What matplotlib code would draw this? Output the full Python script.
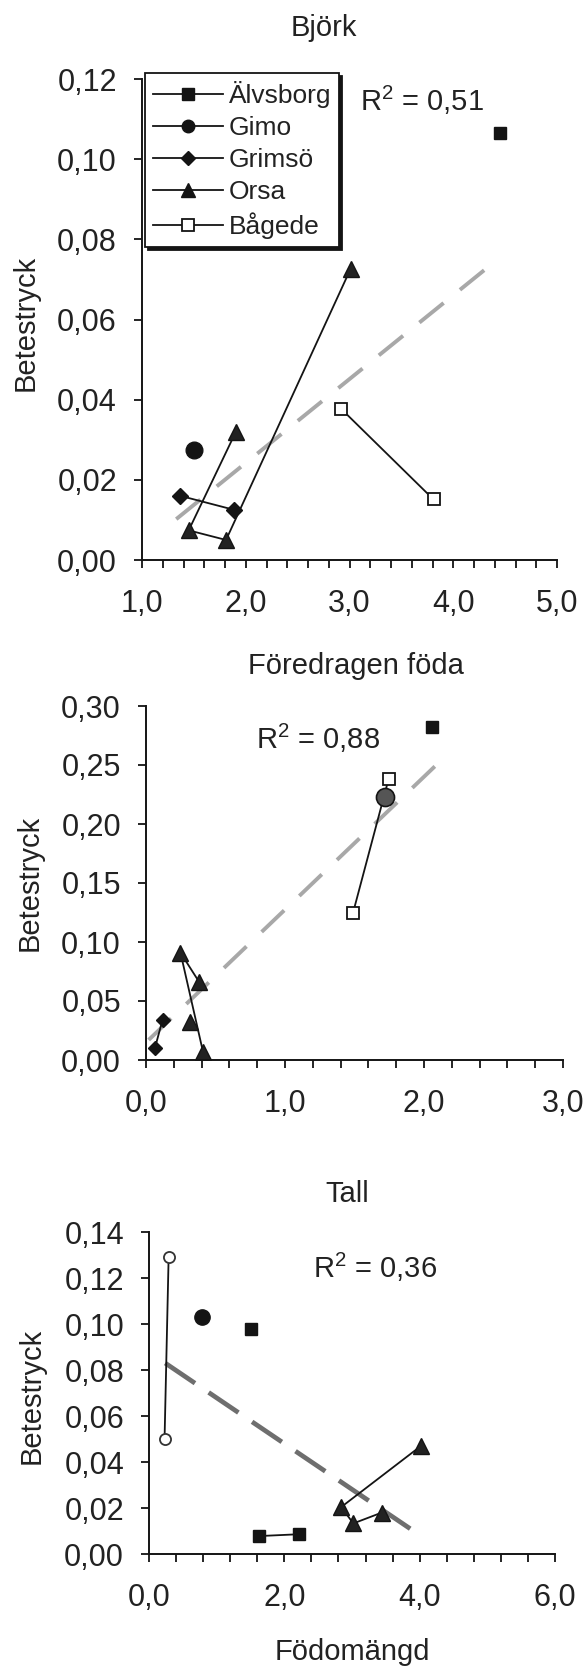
import matplotlib
matplotlib.use('Agg')
import matplotlib.pyplot as plt
import numpy as np
from matplotlib.ticker import FixedLocator
from matplotlib.lines import Line2D

plt.rcParams['font.family'] = ['Liberation Sans', 'DejaVu Sans']
plt.rcParams['mathtext.fontset'] = 'custom'
plt.rcParams['mathtext.rm'] = 'Liberation Sans'
plt.rcParams['mathtext.it'] = 'Liberation Sans:italic'

# ---------------- data ----------------
series_names = ['Älvsborg', 'Gimo', 'Grimsö', 'Orsa', 'Bågede']

# Panel 1: Björk
bj_alv_x = [4.45];               bj_alv_y = [0.1066]
bj_gim_x = [1.50];               bj_gim_y = [0.0275]
bj_gri_x = [1.37, 1.89];         bj_gri_y = [0.016, 0.0125]
bj_ors_x = [1.905, 1.45, 1.81, 3.01]; bj_ors_y = [0.032, 0.0074, 0.005, 0.0726]
bj_bag_x = [2.92, 3.81];         bj_bag_y = [0.0377, 0.0151]
bj_trend_x = [1.33, 4.37];       bj_trend_y = [0.0102, 0.0738]

# Panel 2: Föredragen föda
fo_alv_x = [2.06];               fo_alv_y = [0.2825]
fo_gim_x = [1.72];               fo_gim_y = [0.223]
fo_gri_x = [0.065, 0.119];       fo_gri_y = [0.0105, 0.034]
fo_ors_x = [0.383, 0.248, 0.41, np.nan, 0.316]
fo_ors_y = [0.066, 0.091, 0.007, np.nan, 0.0325]
fo_bag_x = [1.49, 1.745];        fo_bag_y = [0.125, 0.238]
fo_trend_x = [0.019, 2.115];     fo_trend_y = [0.017, 0.253]

# Panel 3: Tall
ta_alv_x = [1.50, np.nan, 1.63, 2.22]; ta_alv_y = [0.098, np.nan, 0.0078, 0.0086]
ta_gim_x = [0.79];               ta_gim_y = [0.103]
ta_ors_x = [4.02, 2.84, 3.02, 3.44]; ta_ors_y = [0.047, 0.0204, 0.0133, 0.018]
ta_bag_x = [0.29, 0.23];         ta_bag_y = [0.129, 0.0502]
ta_trend_x = [0.24, 3.86];       ta_trend_y = [0.083, 0.011]

titles = ['Björk', 'Föredragen föda', 'Tall']
r2_texts = [r'$\mathrm{R}^{2}$ = 0,51', r'$\mathrm{R}^{2}$ = 0,88', r'$\mathrm{R}^{2}$ = 0,36']
ylabel = 'Betestryck'
xlabel = 'Födomängd'

bj_xticks = [1.0, 2.0, 3.0, 4.0, 5.0]
bj_xticklabels = ['1,0', '2,0', '3,0', '4,0', '5,0']
bj_yticks = [0.00, 0.02, 0.04, 0.06, 0.08, 0.10, 0.12]
bj_yticklabels = ['0,00', '0,02', '0,04', '0,06', '0,08', '0,10', '0,12']

fo_xticks = [0.0, 1.0, 2.0, 3.0]
fo_xticklabels = ['0,0', '1,0', '2,0', '3,0']
fo_yticks = [0.00, 0.05, 0.10, 0.15, 0.20, 0.25, 0.30]
fo_yticklabels = ['0,00', '0,05', '0,10', '0,15', '0,20', '0,25', '0,30']

ta_xticks = [0.0, 2.0, 4.0, 6.0]
ta_xticklabels = ['0,0', '2,0', '4,0', '6,0']
ta_yticks = [0.00, 0.02, 0.04, 0.06, 0.08, 0.10, 0.12, 0.14]
ta_yticklabels = ['0,00', '0,02', '0,04', '0,06', '0,08', '0,10', '0,12', '0,14']

# ---------------- figure ----------------
W, H = 588, 1666
fig = plt.figure(figsize=(W / 100, H / 100), dpi=100)
fig.patch.set_facecolor('white')

def px_axes(left, right, top, bottom):
    return fig.add_axes([left / W, 1 - bottom / H, (right - left) / W, (bottom - top) / H])

def ftext(x, y, s, **kw):
    fig.text(x / W, 1 - y / H, s, **kw)

FS = 21
TFS = 22
BLACK = '#141414'
TXT = '#222222'

def style(ax, xlim, ylim, xticks, xlabels, xminor, yticks, ylabels):
    ax.set_xlim(*xlim)
    ax.set_ylim(*ylim)
    for s in ['top', 'right']:
        ax.spines[s].set_visible(False)
    for s in ['left', 'bottom']:
        ax.spines[s].set_linewidth(1.4)
        ax.spines[s].set_color(BLACK)
    ax.xaxis.set_major_locator(FixedLocator(xticks))
    ax.set_xticklabels(xlabels)
    ax.xaxis.set_minor_locator(FixedLocator(xminor))
    ax.yaxis.set_major_locator(FixedLocator(yticks))
    ax.set_yticklabels(ylabels)
    ax.tick_params(axis='both', which='both', direction='out', color=BLACK,
                   width=1.3, length=6, labelsize=TFS, labelcolor=TXT)
    ax.tick_params(axis='x', which='major', pad=15)
    ax.tick_params(axis='y', which='major', pad=12)
    ax.set_facecolor('none')

line_kw = dict(color=BLACK, lw=1.3)

def trend(ax, x, y, color, lw, dashes):
    ax.plot(x, y, color=color, lw=lw, dashes=dashes, solid_capstyle='butt',
            dash_capstyle='butt', zorder=2)

# ---- Panel 1 ----
ax1 = px_axes(142, 557, 79, 560)
style(ax1, (1.0, 5.0), (0.0, 0.12), bj_xticks, bj_xticklabels,
      [1.2, 1.4, 1.6, 1.8, 2.2, 2.4, 2.6, 2.8, 3.2, 3.4, 3.6, 3.8, 4.2, 4.4, 4.6, 4.8],
      bj_yticks, bj_yticklabels)
trend(ax1, bj_trend_x, bj_trend_y, '#a8a8a8', 2.8, (8.0, 5.4))
ax1.plot(bj_alv_x, bj_alv_y, marker='s', ms=8.5, mfc=BLACK, mec=BLACK, **line_kw)
ax1.plot(bj_gim_x, bj_gim_y, marker='o', ms=12, mfc=BLACK, mec=BLACK, **line_kw)
ax1.plot(bj_gri_x, bj_gri_y, marker='D', ms=8, mfc=BLACK, mec=BLACK, **line_kw)
ax1.plot(bj_ors_x, bj_ors_y, marker='^', ms=11.5, mfc='#222222', mec=BLACK, **line_kw)
ax1.plot(bj_bag_x, bj_bag_y, marker='s', ms=8.5, mfc='white', mec=BLACK, mew=1.3, **line_kw)

# ---- Panel 2 ----
ax2 = px_axes(146, 563, 706, 1060)
style(ax2, (0.0, 3.0), (0.0, 0.30), fo_xticks, fo_xticklabels,
      [0.2, 0.4, 0.6, 0.8, 1.2, 1.4, 1.6, 1.8, 2.2, 2.4, 2.6, 2.8],
      fo_yticks, fo_yticklabels)
trend(ax2, fo_trend_x, fo_trend_y, '#a8a8a8', 2.8, (8.0, 5.4))
ax2.plot(fo_alv_x, fo_alv_y, marker='s', ms=8, mfc=BLACK, mec=BLACK, **line_kw)
ax2.plot(fo_bag_x, fo_bag_y, marker='s', ms=8.5, mfc='white', mec=BLACK, mew=1.3, **line_kw)
ax2.plot(fo_gim_x, fo_gim_y, marker='o', ms=13, mfc='#555555', mec=BLACK, mew=1.2, **line_kw)
ax2.plot(fo_gri_x, fo_gri_y, marker='D', ms=7.5, mfc=BLACK, mec=BLACK, **line_kw)
ax2.plot(fo_ors_x, fo_ors_y, marker='^', ms=11.5, mfc='#222222', mec=BLACK, **line_kw)

# ---- Panel 3 ----
ax3 = px_axes(149, 555, 1232, 1554)
style(ax3, (0.0, 6.0), (0.0, 0.14), ta_xticks, ta_xticklabels,
      [0.4, 0.8, 1.2, 1.6, 2.4, 2.8, 3.2, 3.6, 4.4, 4.8, 5.2, 5.6],
      ta_yticks, ta_yticklabels)
trend(ax3, ta_trend_x, ta_trend_y, '#6e6e6e', 3.4, (7.6, 3.5))
ax3.plot(ta_bag_x, ta_bag_y, marker='o', ms=8, mfc='white', mec='#333333', mew=1.3, **line_kw)
ax3.plot(ta_gim_x, ta_gim_y, marker='o', ms=11, mfc=BLACK, mec=BLACK, **line_kw)
ax3.plot(ta_alv_x, ta_alv_y, marker='s', ms=9, mfc=BLACK, mec=BLACK, **line_kw)
ax3.plot(ta_ors_x, ta_ors_y, marker='^', ms=11.5, mfc='#222222', mec=BLACK, **line_kw)

# ---- texts ----
ftext(324, 28, titles[0], fontsize=FS, ha='center', va='center', color=TXT)
ftext(356, 666, titles[1], fontsize=FS, ha='center', va='center', color=TXT)
ftext(347, 1194, titles[2], fontsize=FS, ha='center', va='center', color=TXT)
ftext(360, 100, r2_texts[0], fontsize=FS, ha='left', va='center', color=TXT)
ftext(256, 738, r2_texts[1], fontsize=FS, ha='left', va='center', color=TXT)
ftext(313, 1267, r2_texts[2], fontsize=FS, ha='left', va='center', color=TXT)
ftext(26, 323, ylabel, fontsize=FS, rotation=90, ha='center', va='center', color=TXT)
ftext(30, 883, ylabel, fontsize=FS, rotation=90, ha='center', va='center', color=TXT)
ftext(32, 1396, ylabel, fontsize=FS, rotation=90, ha='center', va='center', color=TXT)
ftext(352, 1652, xlabel, fontsize=FS, ha='center', va='center', color=TXT)

# ---- legend ----
handles = [
    Line2D([], [], marker='s', ms=8.5, mfc=BLACK, mec=BLACK, **line_kw),
    Line2D([], [], marker='o', ms=9, mfc=BLACK, mec=BLACK, **line_kw),
    Line2D([], [], marker='D', ms=7.5, mfc=BLACK, mec=BLACK, **line_kw),
    Line2D([], [], marker='^', ms=10.5, mfc=BLACK, mec=BLACK, **line_kw),
    Line2D([], [], marker='s', ms=8.5, mfc='white', mec=BLACK, mew=1.3, **line_kw),
]
leg = fig.legend(handles, series_names, loc='upper left',
                 bbox_to_anchor=(145 / W, 1 - 73 / H), bbox_transform=fig.transFigure,
                 frameon=True, fancybox=False, edgecolor=BLACK, framealpha=1,
                 shadow={'color': BLACK, 'alpha': 1},
                 fontsize=19, handlelength=2.65, handletextpad=0.23,
                 labelspacing=0.31, borderpad=0.3, borderaxespad=0)
leg.get_frame().set_linewidth(1.3)
for t in leg.get_texts():
    t.set_color(TXT)

fig.savefig('out.png', dpi=100, facecolor='white')
